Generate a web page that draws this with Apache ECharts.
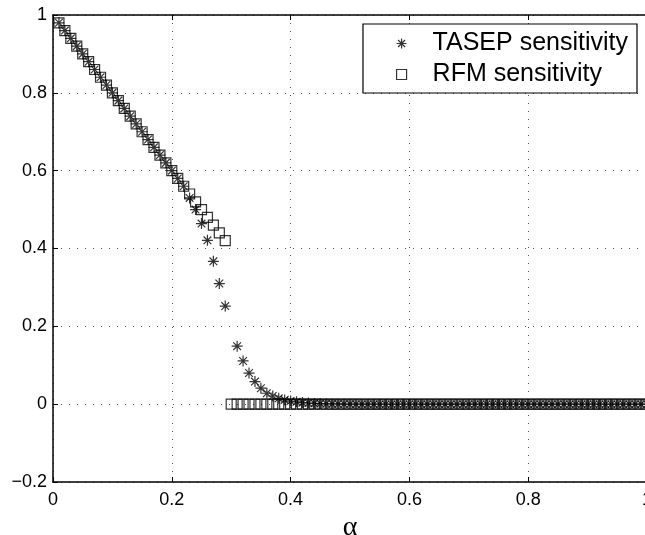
<!DOCTYPE html>
<html>
<head>
<meta charset="utf-8">
<script src="https://cdn.jsdelivr.net/npm/echarts@6/dist/echarts.min.js"></script>
<style>
  html, body { margin: 0; padding: 0; background: #fff; }
  #chart { width: 645px; height: 535px; }
</style>
</head>
<body>
<div id="chart"></div>
<script>
// alpha values (x)
var alpha = [
  0.01, 0.02, 0.03, 0.04, 0.05, 0.06, 0.07, 0.08, 0.09, 0.10,
  0.11, 0.12, 0.13, 0.14, 0.15, 0.16, 0.17, 0.18, 0.19, 0.20,
  0.21, 0.22, 0.23, 0.24, 0.25, 0.26, 0.27, 0.28, 0.29, 0.30,
  0.31, 0.32, 0.33, 0.34, 0.35, 0.36, 0.37, 0.38, 0.39, 0.40,
  0.41, 0.42, 0.43, 0.44, 0.45, 0.46, 0.47, 0.48, 0.49, 0.50,
  0.51, 0.52, 0.53, 0.54, 0.55, 0.56, 0.57, 0.58, 0.59, 0.60,
  0.61, 0.62, 0.63, 0.64, 0.65, 0.66, 0.67, 0.68, 0.69, 0.70,
  0.71, 0.72, 0.73, 0.74, 0.75, 0.76, 0.77, 0.78, 0.79, 0.80,
  0.81, 0.82, 0.83, 0.84, 0.85, 0.86, 0.87, 0.88, 0.89, 0.90,
  0.91, 0.92, 0.93, 0.94, 0.95, 0.96, 0.97, 0.98, 0.99, 1.00
];

// TASEP sensitivity (no point at 0.30)
var tasep = [
  0.98, 0.96, 0.94, 0.92, 0.90, 0.88, 0.86, 0.84, 0.82, 0.80,
  0.78, 0.76, 0.74, 0.72, 0.70, 0.68, 0.66, 0.64, 0.62, 0.60,
  0.58, 0.56, 0.53, 0.50, 0.464, 0.421, 0.367, 0.31, 0.252, null,
  0.149, 0.111, 0.080, 0.058, 0.041, 0.028, 0.021, 0.015, 0.011, 0.008,
  0.006, 0.004, 0.003, 0.002, 0.0015, 0.001, 0.0007, 0.0005, 0.0003, 0.0002,
  0, 0, 0, 0, 0, 0, 0, 0, 0, 0,
  0, 0, 0, 0, 0, 0, 0, 0, 0, 0,
  0, 0, 0, 0, 0, 0, 0, 0, 0, 0,
  0, 0, 0, 0, 0, 0, 0, 0, 0, 0,
  0, 0, 0, 0, 0, 0, 0, 0, 0, 0
];

// RFM sensitivity
var rfm = [
  0.98, 0.96, 0.94, 0.92, 0.90, 0.88, 0.86, 0.84, 0.82, 0.80,
  0.78, 0.76, 0.74, 0.72, 0.70, 0.68, 0.66, 0.64, 0.62, 0.60,
  0.58, 0.56, 0.54, 0.52, 0.50, 0.48, 0.46, 0.44, 0.42, 0,
  0, 0, 0, 0, 0, 0, 0, 0, 0, 0,
  0, 0, 0, 0, 0, 0, 0, 0, 0, 0,
  0, 0, 0, 0, 0, 0, 0, 0, 0, 0,
  0, 0, 0, 0, 0, 0, 0, 0, 0, 0,
  0, 0, 0, 0, 0, 0, 0, 0, 0, 0,
  0, 0, 0, 0, 0, 0, 0, 0, 0, 0,
  0, 0, 0, 0, 0, 0, 0, 0, 0, 0
];

var seriesNames = ['TASEP sensitivity', 'RFM sensitivity'];

function pairs(ys) {
  var out = [];
  for (var i = 0; i < alpha.length; i++) {
    if (ys[i] !== null) out.push([alpha[i], ys[i]]);
  }
  return out;
}

var starPath = 'path://M0,-5L0,5M-5,0L5,0M-3.5,-3.5L3.5,3.5M-3.5,3.5L3.5,-3.5';
var hollow = { color: 'rgba(0,0,0,0)', borderColor: '#000', borderWidth: 1.2 };
var font = '"Liberation Sans", Arial, Helvetica, sans-serif';

var chart = echarts.init(document.getElementById('chart'));
chart.setOption({
  animation: false,
  backgroundColor: '#fff',
  grid: { left: 53, right: -2, top: 15, bottom: 53, containLabel: false, outerBoundsMode: 'none' },
  legend: {
    orient: 'vertical',
    right: 8,
    top: 24,
    padding: [7, 9, 6, 33],
    itemGap: 6,
    itemWidth: 10,
    itemHeight: 10,
    backgroundColor: '#fff',
    borderColor: '#000',
    borderWidth: 1.2,
    borderRadius: 0,
    textStyle: { fontFamily: font, fontSize: 25, color: '#000', lineHeight: 24, padding: [0, 0, 0, 21] },
    data: [
      { name: seriesNames[0], icon: starPath, itemStyle: hollow },
      { name: seriesNames[1], icon: 'rect', itemStyle: hollow }
    ]
  },
  xAxis: [{
    type: 'value',
    min: 0, max: 1, interval: 0.2,
    name: 'α',
    nameLocation: 'middle',
    nameGap: 17,
    nameTextStyle: { fontFamily: '"Liberation Serif", "Times New Roman", serif', fontSize: 28, color: '#000' },
    axisLine: { show: true, onZero: false, lineStyle: { color: '#000', width: 1.5 } },
    axisTick: { show: true, inside: true, length: 5, lineStyle: { color: '#000' } },
    axisLabel: { color: '#000', fontFamily: font, fontSize: 18, margin: 9 },
    splitLine: { show: true, lineStyle: { color: '#555', type: [1, 7], width: 1 } }
  }, {
    type: 'value',
    position: 'top',
    min: 0, max: 1, interval: 0.2,
    axisLine: { show: true, onZero: false, lineStyle: { color: '#000', width: 1.5 } },
    axisTick: { show: true, inside: true, length: 5, lineStyle: { color: '#000' } },
    axisLabel: { show: false },
    splitLine: { show: false }
  }],
  yAxis: {
    type: 'value',
    min: -0.2, max: 1, interval: 0.2,
    axisLine: { show: true, onZero: false, lineStyle: { color: '#000', width: 1.5 } },
    axisTick: { show: true, inside: true, length: 5, lineStyle: { color: '#000' } },
    axisLabel: {
      color: '#000', fontFamily: font, fontSize: 18, margin: 6,
      formatter: function (v) {
        var s = String(Math.round(v * 10) / 10);
        return s.replace('-', '\u2212');
      }
    },
    splitLine: { show: true, lineStyle: { color: '#555', type: [1, 7], width: 1 } }
  },
  series: [{
    name: seriesNames[0],
    type: 'scatter',
    symbol: starPath,
    symbolSize: 11,
    itemStyle: hollow,
    data: pairs(tasep)
  }, {
    name: seriesNames[1],
    type: 'scatter',
    symbol: 'rect',
    symbolSize: 10,
    itemStyle: hollow,
    data: pairs(rfm)
  }]
});
</script>
</body>
</html>
